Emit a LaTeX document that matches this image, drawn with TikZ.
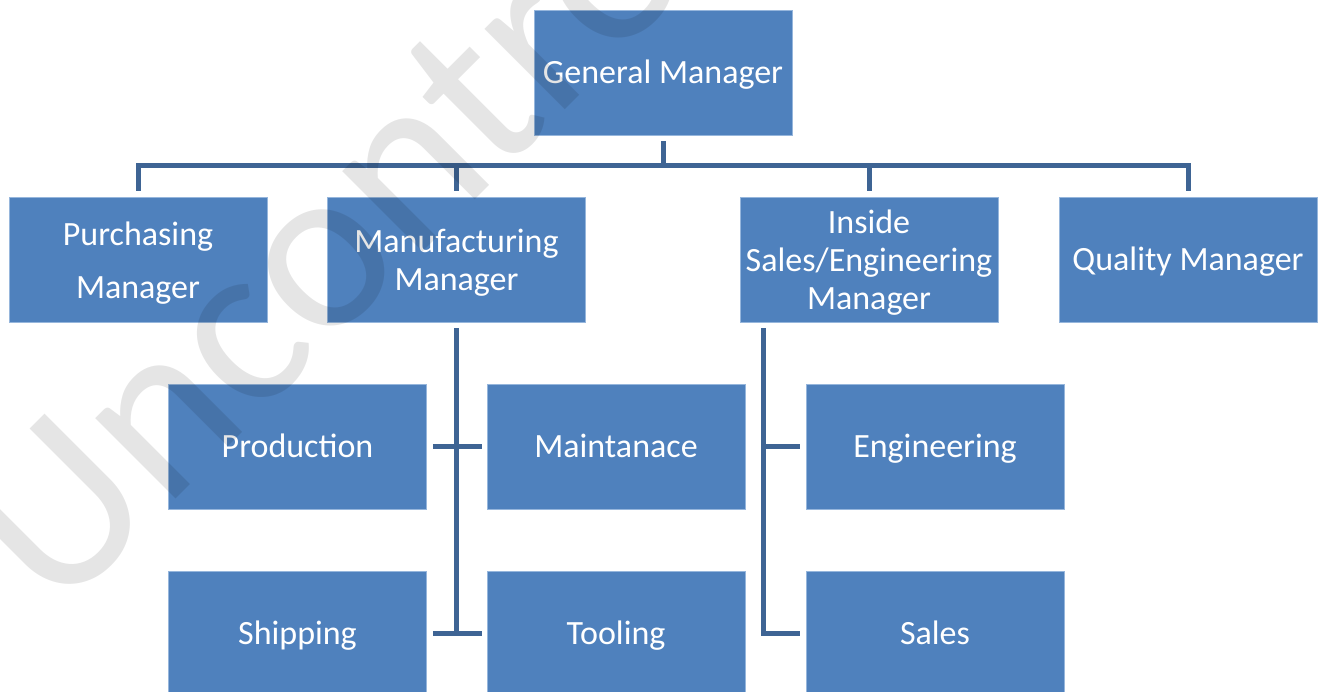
\documentclass[tikz,border=0pt]{standalone}
\usepackage{fontspec}
\setmainfont{Carlito}
\definecolor{boxblue}{RGB}{79,129,189}
\definecolor{connblue}{RGB}{62,100,148}
\definecolor{boxedge}{RGB}{150,182,220}
\newcommand{\toppad}{\rule{0pt}{30pt}}
\begin{document}
\begin{tikzpicture}[x=1pt,y=-1pt,
  orgbox/.style={fill=boxblue, draw=boxedge, line width=0.8pt, minimum width=258pt, minimum height=125pt, inner sep=0pt, text=white, align=center, font=\fontsize{34}{38}\selectfont},
  onebox/.style={orgbox, text height=27pt, text depth=6pt},
  conn/.style={draw=connblue, line width=5pt},
  wmark/.style={rotate=45, anchor=base west, inner sep=0pt, font=\fontsize{238}{238}\selectfont, text=black, text opacity=0.1}]
\useasboundingbox (0,0) rectangle (1320,691);
\begin{scope}
\clip (0,0) rectangle (1320,691);
% boxes
\node[onebox] (gm) at (663,72.5) {General Manager};
\node[orgbox] (pm) at (138,259.5) {\toppad Purchasing\\[15pt]Manager};
\node[orgbox] (mm) at (456.5,259.5) {\toppad Manufacturing\\Manager};
\node[orgbox] (is) at (869,259.5) {\toppad Inside\\Sales/Engineering\\Manager};
\node[onebox] (qm) at (1188,259.5) {Quality Manager};
\node[onebox] (pr) at (297.5,446.5) {Production};
\node[onebox] (mt) at (616,446.5) {Maintanace};
\node[onebox] (en) at (935,446.5) {Engineering};
\node[onebox] (sh) at (297.5,633.5) {Shipping};
\node[onebox] (to) at (616,633.5) {Tooling};
\node[onebox] (sa) at (935,633.5) {Sales};
% top bus
\coordinate (bus) at (663,165.5);
\draw[conn] ([yshift=-6pt]gm.south) -- (gm.south |- bus);
\draw[conn, line join=miter] ([yshift=6pt]pm.north) -- (pm.north |- bus) -- (qm.north |- bus) -- ([yshift=6pt]qm.north);
\draw[conn] ([yshift=6pt]mm.north) -- (mm.north |- bus);
\draw[conn] ([yshift=6pt]is.north) -- (is.north |- bus);
% manufacturing subtree
\draw[conn] ([yshift=-6pt]mm.south) -- (mm.south |- sh.east);
\draw[conn] ([xshift=6pt]pr.east) -- ([xshift=-5pt]mt.west);
\draw[conn] ([xshift=6pt]sh.east) -- ([xshift=-5pt]to.west);
% inside sales subtree
\coordinate (isb) at ([xshift=24pt,yshift=-6pt]is.south west);
\draw[conn, line join=miter] (isb) -- (isb |- sa.west) -- ([xshift=-6pt]sa.west);
\draw[conn] (isb |- en.west) -- ([xshift=-6pt]en.west);
% watermark
\node[wmark] (wm) at (56,619) {Uncontrolled};
\end{scope}
\end{tikzpicture}
\end{document}
